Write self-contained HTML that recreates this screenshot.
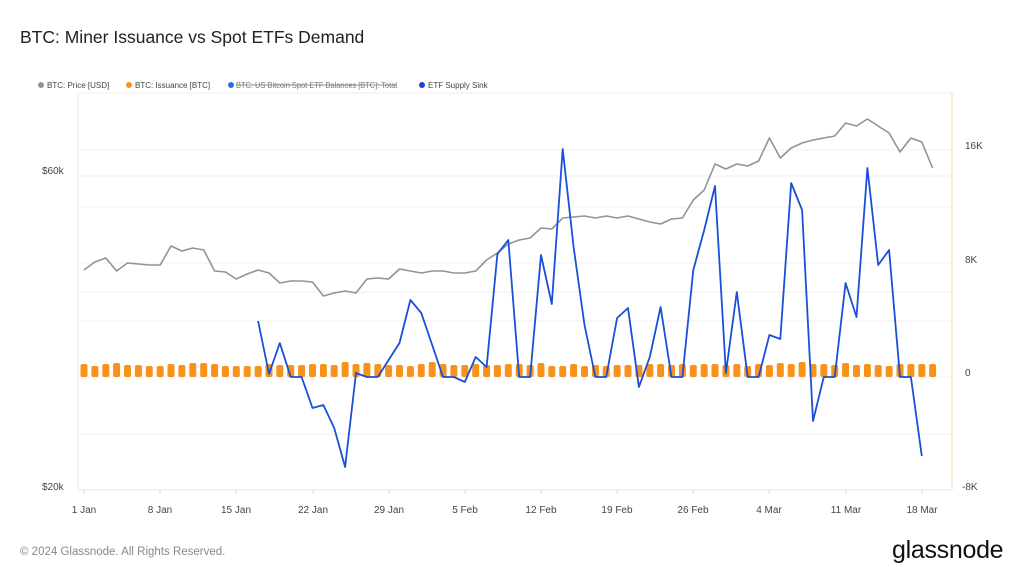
<!DOCTYPE html>
<html><head><meta charset="utf-8"><style>
body{margin:0;width:1024px;height:576px;background:#fff;overflow:hidden;font-family:"Liberation Sans",sans-serif;}
</style></head><body>
<svg width="1024" height="576" viewBox="0 0 1024 576" xmlns="http://www.w3.org/2000/svg" font-family="Liberation Sans, sans-serif">
<text x="20" y="43" font-size="17.5" fill="#222">BTC: Miner Issuance vs Spot ETFs Demand</text>
<g font-size="8" fill="#444">
<circle cx="41" cy="85" r="3" fill="#8a969c"/><text x="47" y="88">BTC: Price [USD]</text>
<circle cx="129" cy="85" r="3" fill="#f7931a"/><text x="135" y="88">BTC: Issuance [BTC]</text>
<circle cx="231" cy="85" r="3" fill="#2b6de8"/><text x="236" y="88" fill="#777" textLength="161" lengthAdjust="spacingAndGlyphs">BTC: US Bitcoin Spot ETF Balances [BTC]: Total</text>
<line x1="236" y1="85" x2="397" y2="85" stroke="#777" stroke-width="0.7"/>
<circle cx="422" cy="85" r="3" fill="#1a44d6"/><text x="428" y="88">ETF Supply Sink</text>
</g>
<g stroke="#f1f1f1" stroke-width="1">
<line x1="78" y1="150" x2="952" y2="150"/><line x1="78" y1="176" x2="952" y2="176"/>
<line x1="78" y1="207" x2="952" y2="207"/><line x1="78" y1="263" x2="952" y2="263"/>
<line x1="78" y1="292" x2="952" y2="292"/><line x1="78" y1="321" x2="952" y2="321"/>
<line x1="78" y1="377" x2="952" y2="377"/><line x1="78" y1="434" x2="952" y2="434"/>
</g>
<line x1="78" y1="93" x2="952" y2="93" stroke="#eee"/>
<line x1="78" y1="93" x2="78" y2="490" stroke="#e4e4e4"/>
<line x1="78" y1="490" x2="952" y2="490" stroke="#e4e4e4"/>
<line x1="952" y1="93" x2="952" y2="490" stroke="#fbd9b0"/>
<g stroke="#ddd">
<line x1="84" y1="490" x2="84" y2="494"/><line x1="160" y1="490" x2="160" y2="494"/><line x1="236" y1="490" x2="236" y2="494"/><line x1="313" y1="490" x2="313" y2="494"/><line x1="389" y1="490" x2="389" y2="494"/><line x1="465" y1="490" x2="465" y2="494"/><line x1="541" y1="490" x2="541" y2="494"/><line x1="617" y1="490" x2="617" y2="494"/><line x1="693" y1="490" x2="693" y2="494"/><line x1="769" y1="490" x2="769" y2="494"/><line x1="846" y1="490" x2="846" y2="494"/><line x1="922" y1="490" x2="922" y2="494"/>
</g>
<g font-size="10" fill="#444" text-anchor="middle">
<text x="84" y="513">1 Jan</text><text x="160" y="513">8 Jan</text><text x="236" y="513">15 Jan</text><text x="313" y="513">22 Jan</text><text x="389" y="513">29 Jan</text><text x="465" y="513">5 Feb</text><text x="541" y="513">12 Feb</text><text x="617" y="513">19 Feb</text><text x="693" y="513">26 Feb</text><text x="769" y="513">4 Mar</text><text x="846" y="513">11 Mar</text><text x="922" y="513">18 Mar</text>
</g>
<g font-size="10" fill="#444">
<text x="42" y="174">$60k</text><text x="42" y="490">$20k</text>
<text x="965" y="149">16K</text><text x="965" y="263">8K</text><text x="965" y="376">0</text><text x="962" y="490">-8K</text>
</g>
<g fill="#f7931a">
<rect x="80.5" y="364" width="7" height="13" rx="2"/><rect x="91.4" y="366" width="7" height="11" rx="2"/><rect x="102.3" y="364" width="7" height="13" rx="2"/><rect x="113.1" y="363" width="7" height="14" rx="2"/><rect x="124" y="365" width="7" height="12" rx="2"/><rect x="134.9" y="365" width="7" height="12" rx="2"/><rect x="145.8" y="366" width="7" height="11" rx="2"/><rect x="156.7" y="366" width="7" height="11" rx="2"/><rect x="167.5" y="364" width="7" height="13" rx="2"/><rect x="178.4" y="365" width="7" height="12" rx="2"/><rect x="189.3" y="363" width="7" height="14" rx="2"/><rect x="200.2" y="363" width="7" height="14" rx="2"/><rect x="211.1" y="364" width="7" height="13" rx="2"/><rect x="221.9" y="366" width="7" height="11" rx="2"/><rect x="232.8" y="366" width="7" height="11" rx="2"/><rect x="243.7" y="366" width="7" height="11" rx="2"/><rect x="254.6" y="366" width="7" height="11" rx="2"/><rect x="265.5" y="364" width="7" height="13" rx="2"/><rect x="276.3" y="365" width="7" height="12" rx="2"/><rect x="287.2" y="365" width="7" height="12" rx="2"/><rect x="298.1" y="365" width="7" height="12" rx="2"/><rect x="309" y="364" width="7" height="13" rx="2"/><rect x="319.9" y="364" width="7" height="13" rx="2"/><rect x="330.7" y="365" width="7" height="12" rx="2"/><rect x="341.6" y="362" width="7" height="15" rx="2"/><rect x="352.5" y="364" width="7" height="13" rx="2"/><rect x="363.4" y="363" width="7" height="14" rx="2"/><rect x="374.3" y="364" width="7" height="13" rx="2"/><rect x="385.1" y="365" width="7" height="12" rx="2"/><rect x="396" y="365" width="7" height="12" rx="2"/><rect x="406.9" y="366" width="7" height="11" rx="2"/><rect x="417.8" y="364" width="7" height="13" rx="2"/><rect x="428.7" y="362" width="7" height="15" rx="2"/><rect x="439.5" y="364" width="7" height="13" rx="2"/><rect x="450.4" y="365" width="7" height="12" rx="2"/><rect x="461.3" y="365" width="7" height="12" rx="2"/><rect x="472.2" y="364" width="7" height="13" rx="2"/><rect x="483.1" y="365" width="7" height="12" rx="2"/><rect x="493.9" y="365" width="7" height="12" rx="2"/><rect x="504.8" y="364" width="7" height="13" rx="2"/><rect x="515.7" y="364" width="7" height="13" rx="2"/><rect x="526.6" y="365" width="7" height="12" rx="2"/><rect x="537.5" y="363" width="7" height="14" rx="2"/><rect x="548.3" y="366" width="7" height="11" rx="2"/><rect x="559.2" y="366" width="7" height="11" rx="2"/><rect x="570.1" y="364" width="7" height="13" rx="2"/><rect x="581" y="366" width="7" height="11" rx="2"/><rect x="591.9" y="365" width="7" height="12" rx="2"/><rect x="602.7" y="366" width="7" height="11" rx="2"/><rect x="613.6" y="365" width="7" height="12" rx="2"/><rect x="624.5" y="365" width="7" height="12" rx="2"/><rect x="635.4" y="365" width="7" height="12" rx="2"/><rect x="646.3" y="364" width="7" height="13" rx="2"/><rect x="657.1" y="364" width="7" height="13" rx="2"/><rect x="668" y="365" width="7" height="12" rx="2"/><rect x="678.9" y="364" width="7" height="13" rx="2"/><rect x="689.8" y="365" width="7" height="12" rx="2"/><rect x="700.7" y="364" width="7" height="13" rx="2"/><rect x="711.5" y="364" width="7" height="13" rx="2"/><rect x="722.4" y="365" width="7" height="12" rx="2"/><rect x="733.3" y="364" width="7" height="13" rx="2"/><rect x="744.2" y="366" width="7" height="11" rx="2"/><rect x="755.1" y="364" width="7" height="13" rx="2"/><rect x="765.9" y="365" width="7" height="12" rx="2"/><rect x="776.8" y="363" width="7" height="14" rx="2"/><rect x="787.7" y="364" width="7" height="13" rx="2"/><rect x="798.6" y="362" width="7" height="15" rx="2"/><rect x="809.5" y="364" width="7" height="13" rx="2"/><rect x="820.3" y="364" width="7" height="13" rx="2"/><rect x="831.2" y="365" width="7" height="12" rx="2"/><rect x="842.1" y="363" width="7" height="14" rx="2"/><rect x="853" y="365" width="7" height="12" rx="2"/><rect x="863.9" y="364" width="7" height="13" rx="2"/><rect x="874.7" y="365" width="7" height="12" rx="2"/><rect x="885.6" y="366" width="7" height="11" rx="2"/><rect x="896.5" y="364" width="7" height="13" rx="2"/><rect x="907.4" y="364" width="7" height="13" rx="2"/><rect x="918.3" y="364" width="7" height="13" rx="2"/><rect x="929.1" y="364" width="7" height="13" rx="2"/>
</g>
<polyline fill="none" stroke="#8a969c" stroke-width="1.6" stroke-linejoin="round" points="84,270 94.9,262 105.8,258 116.6,271 127.5,263 138.4,264 149.3,265 160.2,265 171,246 181.9,251 192.8,248 203.7,250 214.6,271 225.4,272 236.3,279 247.2,274 258.1,270 269,273 279.8,283 290.7,281 301.6,281 312.5,282 323.4,296 334.2,293 345.1,291 356,293 366.9,279 377.8,278 388.6,279 399.5,269 410.4,271 421.3,273 432.2,271 443,271 453.9,273 464.8,273 475.7,271 486.6,260 497.4,253 508.3,244 519.2,240 530.1,238 541,228 551.8,229 562.7,218 573.6,217 584.5,216 595.4,218 606.2,216 617.1,218 628,216 638.9,219 649.8,222 660.6,224 671.5,219 682.4,218 693.3,200 704.2,190 715,164 725.9,169 736.8,164 747.7,166 758.6,161 769.4,138 780.3,158 791.2,148 802.1,143 813,140 823.8,138 834.7,136 845.6,123 856.5,126 867.4,119 878.2,126 889.1,133 900,152 910.9,138 921.8,142 932.6,168"/>
<polyline fill="none" stroke="#1a4fd8" stroke-width="1.8" stroke-linejoin="round" points="258.1,321 269,374 279.8,343 290.7,377 301.6,377 312.5,408 323.4,405 334.2,428 345.1,467 356,373 366.9,377 377.8,377 388.6,360 399.5,343 410.4,300 421.3,313 432.2,345 443,377 453.9,377 464.8,382 475.7,357 486.6,367 497.4,254 508.3,240 519.2,377 530.1,377 541,255 551.8,304 562.7,149 573.6,247 584.5,325 595.4,377 606.2,377 617.1,318 628,308 638.9,387 649.8,357 660.6,307 671.5,377 682.4,377 693.3,270 704.2,230 715,186 725.9,373 736.8,292 747.7,377 758.6,377 769.4,335 780.3,339 791.2,183 802.1,210 813,421 823.8,377 834.7,377 845.6,283 856.5,317 867.4,168 878.2,265 889.1,250 900,377 910.9,377 921.8,456"/>
<text x="20" y="555" font-size="11.5" fill="#888">© 2024 Glassnode. All Rights Reserved.</text>
<text x="892" y="558" font-size="25" fill="#111" letter-spacing="-0.3">glassnode</text>
</svg>
</body></html>
